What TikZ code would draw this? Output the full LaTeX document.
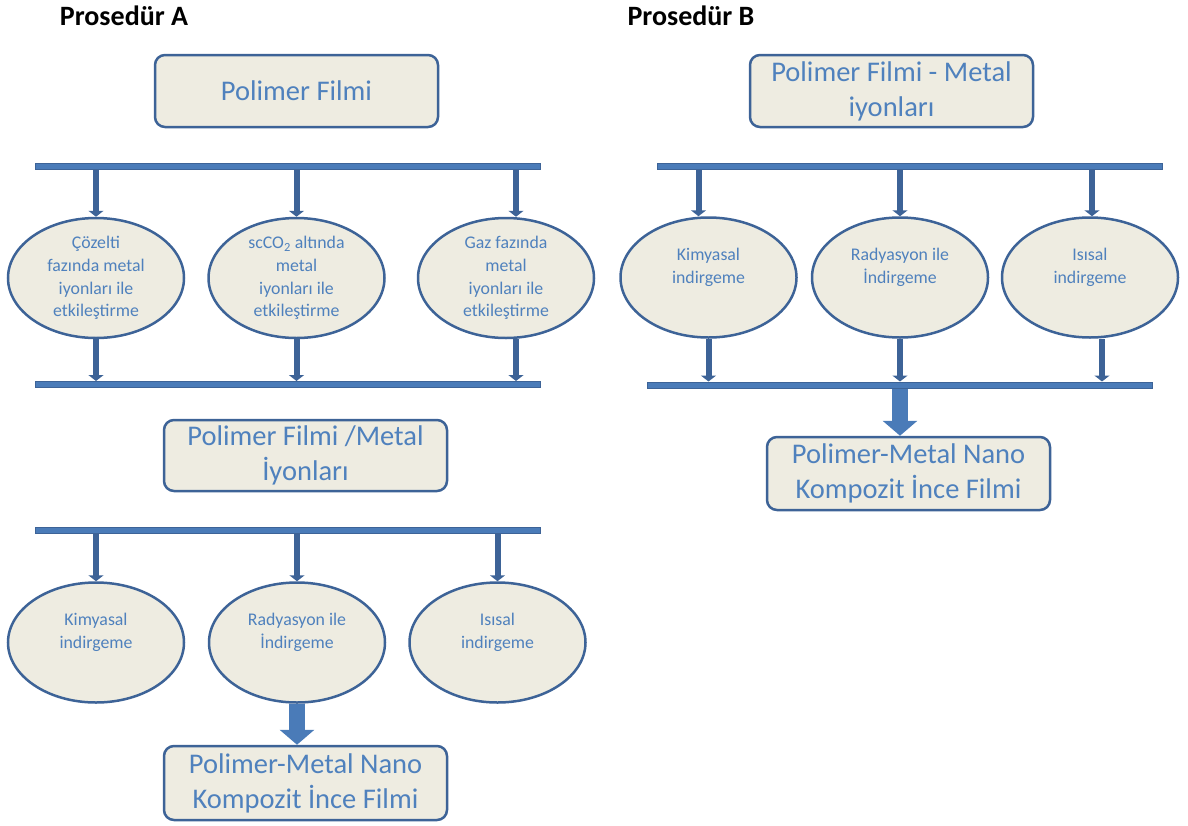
\documentclass[tikz,border=0pt]{standalone}
\usepackage{fontspec}
\setmainfont{Carlito}
\usetikzlibrary{shapes.geometric,arrows.meta}
\definecolor{boxfill}{HTML}{EEECE1}
\definecolor{edge}{HTML}{3D6397}
\definecolor{txt}{HTML}{4F81BD}
\definecolor{barfill}{HTML}{4A7BB8}
\begin{document}
\begin{tikzpicture}[x=1pt,y=-1pt,
  box/.style={draw=edge, line width=2.5pt, fill=boxfill, rounded corners=10pt,
    minimum width=283pt, minimum height=72pt, align=center, text=txt,
    font=\fontsize{28.5}{35}\selectfont, inner sep=0pt},
  oval/.style={ellipse, draw=edge, line width=2.5pt, fill=boxfill,
    minimum width=176pt, minimum height=120pt, inner sep=0pt, align=center,
    text=txt, font=\fontsize{17.8}{22.7}\selectfont},
  bar/.style={rectangle, draw=edge, line width=1pt, fill=barfill,
    minimum width=505pt, minimum height=6pt, inner sep=0pt},
  thinarrow/.style={draw=edge, line width=6pt, -{Triangle[width=15pt,length=6pt]}},
  bigarrow/.style={draw=barfill, line width=16pt, -{Triangle[width=34pt,length=15pt]}},
  title/.style={font=\fontsize{28}{34}\selectfont\bfseries, text=black, inner sep=0pt, anchor=base}]

\useasboundingbox (0,0) rectangle (1188,825);

% titles
\node[title] (tA) at (124,25) {Prosedür A};
\node[title] (tB) at (691,25) {Prosedür B};

% Procedure A
\node[box] (a1) at (296.5,91) {Polimer Filmi};
\node[bar] (barA1) at (287.5,166) {};
\node[oval] (a11) at (96,278) {Çözelti\\fazında metal\\iyonları ile\\etkileştirme};
\node[oval] (a12) at (296.5,278) {scCO\textsubscript{2} altında\\metal\\iyonları ile\\etkileştirme};
\node[oval] (a13) at (506,278) {Gaz fazında\\metal\\iyonları ile\\etkileştirme};
\node[bar] (barA2) at (287.5,384.5) {};
\node[box, minimum height=71pt] (a2) at (305.5,455.5) {Polimer Filmi /Metal\\İyonları};
\node[bar] (barA3) at (287.5,530) {};
\node[oval] (a21) at (96,642.5) {Kimyasal\\indirgeme\\\mbox{}};
\node[oval] (a22) at (297,642.5) {Radyasyon ile\\İndirgeme\\\mbox{}};
\node[oval] (a23) at (497.5,642.5) {Isısal\\indirgeme\\\mbox{}};
\node[box, minimum height=74pt] (a3) at (305.5,783) {Polimer-Metal Nano\\Kompozit İnce Filmi};

% Procedure B
\node[box] (b1) at (891.5,91) {Polimer Filmi - Metal\\iyonları};
\node[bar] (barB1) at (909.5,166) {};
\node[oval] (b11) at (708.5,277.5) {Kimyasal\\indirgeme\\\mbox{}};
\node[oval] (b12) at (900,277.5) {Radyasyon ile\\İndirgeme\\\mbox{}};
\node[oval] (b13) at (1090,277.5) {Isısal\\indirgeme\\\mbox{}};
\node[bar] (barB2) at (900,385) {};
\node[box, minimum height=73pt] (b2) at (908.5,473.5) {Polimer-Metal Nano\\Kompozit İnce Filmi};

% connectors A
\draw[thinarrow] (a11.north |- barA1.south) -- (a11.north);
\draw[thinarrow] (a12.north |- barA1.south) -- (a12.north);
\draw[thinarrow] ([xshift=10pt]a13.north |- barA1.south) -- ([xshift=10pt]a13.north);
\draw[thinarrow] (a11.south) -- (a11.south |- barA2.north);
\draw[thinarrow] (a12.south) -- (a12.south |- barA2.north);
\draw[thinarrow] ([xshift=10pt]a13.south) -- ([xshift=10pt]a13.south |- barA2.north);
\draw[thinarrow] (a21.north |- barA3.south) -- (a21.north);
\draw[thinarrow] (a22.north |- barA3.south) -- (a22.north);
\draw[thinarrow] (a23.north |- barA3.south) -- (a23.north);
\draw[bigarrow] (a22.south) -- (a22.south |- a3.north);

% connectors B
\draw[thinarrow] ([xshift=-10pt]b11.north |- barB1.south) -- ([xshift=-10pt]b11.north);
\draw[thinarrow] (b12.north |- barB1.south) -- (b12.north);
\draw[thinarrow] ([xshift=2pt]b13.north |- barB1.south) -- ([xshift=2pt]b13.north);
\draw[thinarrow] (b11.south) -- (b11.south |- barB2.north);
\draw[thinarrow] (b12.south) -- (b12.south |- barB2.north);
\draw[thinarrow] ([xshift=12pt]b13.south) -- ([xshift=12pt]b13.south |- barB2.north);
\draw[bigarrow] (barB2.south) -- (barB2.south |- b2.north);
\end{tikzpicture}
\end{document}
